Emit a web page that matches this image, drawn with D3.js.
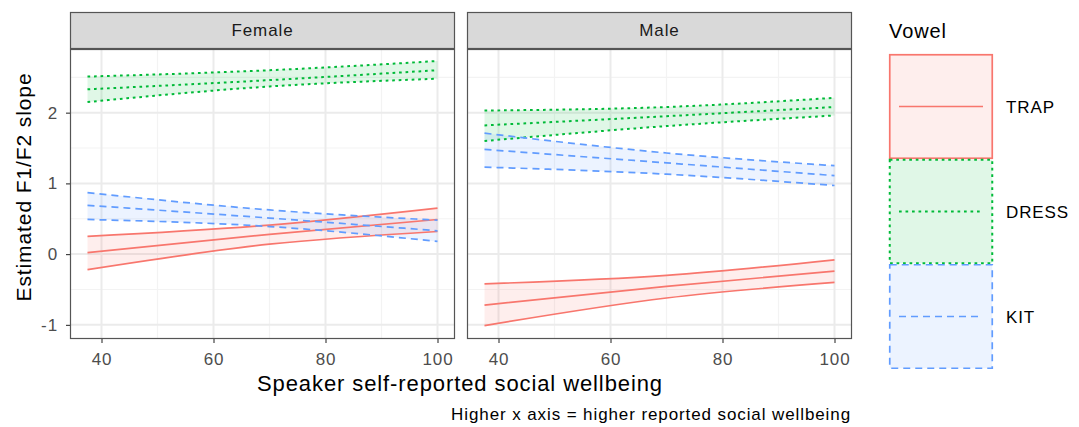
<!DOCTYPE html>
<html>
<head>
<meta charset="utf-8">
<script src="https://cdn.jsdelivr.net/npm/d3@7"></script>
<style>
  body { margin: 0; background: #fff; }
  text { font-family: "Liberation Sans", Arial, sans-serif; letter-spacing: 0.9px; }
</style>
</head>
<body>
<div id="chart"></div>
<script>
// x positions at which the fitted lines were read
const xValues = [37.5, 70, 100];

const sexes = ["Female", "Male"];
const vowels = ["TRAP", "DRESS", "KIT"];
const xTicks = [40, 60, 80, 100];
const yTicks = [-1, 0, 1, 2];

// Female
const femaleTrapFit = [0.02, 0.28, 0.49];
const femaleTrapLow = [-0.22, 0.14, 0.32];
const femaleTrapHigh = [0.25, 0.41, 0.65];
const femaleDressFit = [2.33, 2.46, 2.60];
const femaleDressLow = [2.15, 2.37, 2.48];
const femaleDressHigh = [2.51, 2.60, 2.73];
const femaleKitFit = [0.69, 0.51, 0.33];
const femaleKitLow = [0.49, 0.39, 0.18];
const femaleKitHigh = [0.87, 0.625, 0.48];

// Male
const maleTrapFit = [-0.72, -0.455, -0.24];
const maleTrapLow = [-1.01, -0.62, -0.40];
const maleTrapHigh = [-0.42, -0.30, -0.08];
const maleDressFit = [1.82, 1.95, 2.08];
const maleDressLow = [1.60, 1.81, 1.96];
const maleDressHigh = [2.03, 2.08, 2.21];
const maleKitFit = [1.48, 1.29, 1.11];
const maleKitLow = [1.23, 1.13, 0.97];
const maleKitHigh = [1.71, 1.43, 1.25];

const seriesBySex = {
    Female: {
        TRAP: [femaleTrapFit, femaleTrapLow, femaleTrapHigh],
        DRESS: [femaleDressFit, femaleDressLow, femaleDressHigh],
        KIT: [femaleKitFit, femaleKitLow, femaleKitHigh]
    },
    Male: {
        TRAP: [maleTrapFit, maleTrapLow, maleTrapHigh],
        DRESS: [maleDressFit, maleDressLow, maleDressHigh],
        KIT: [maleKitFit, maleKitLow, maleKitHigh]
    }
};

const color = d3.scaleOrdinal().domain(vowels).range(["#F8766D", "#00BA38", "#619CFF"]);
const dash = d3.scaleOrdinal().domain(vowels).range(["none", "2.7,3.8", "7,5"]);

// Layout
const panelTop = 49, panelBottom = 339, stripTop = 12;
const panelW = 385, panelGap = 12, firstLeft = 70;

const svg = d3.select("#chart").append("svg")
    .attr("width", 1079)
    .attr("height", 427);

const y = d3.scaleLinear().domain([-1.2, 2.9]).range([panelBottom, panelTop]);

sexes.forEach(function(sex, i) {
    const left = firstLeft + i * (panelW + panelGap);
    const x = d3.scaleLinear().domain([34.375, 103.125]).range([left, left + panelW]);

    const g = svg.append("g");

    // panel background and grid
    g.append("rect")
        .attr("x", left).attr("y", panelTop)
        .attr("width", panelW).attr("height", panelBottom - panelTop)
        .attr("fill", "#fff");

    [50, 70, 90].forEach(v => {
        g.append("line")
            .attr("x1", x(v)).attr("x2", x(v))
            .attr("y1", panelTop).attr("y2", panelBottom)
            .attr("stroke", "#F3F3F3").attr("stroke-width", 1.2);
    });
    [-0.5, 0.5, 1.5, 2.5].forEach(v => {
        g.append("line")
            .attr("x1", left).attr("x2", left + panelW)
            .attr("y1", y(v)).attr("y2", y(v))
            .attr("stroke", "#F3F3F3").attr("stroke-width", 1.2);
    });
    xTicks.forEach(v => {
        g.append("line")
            .attr("x1", x(v)).attr("x2", x(v))
            .attr("y1", panelTop).attr("y2", panelBottom)
            .attr("stroke", "#EBEBEB").attr("stroke-width", 2);
    });
    yTicks.forEach(v => {
        g.append("line")
            .attr("x1", left).attr("x2", left + panelW)
            .attr("y1", y(v)).attr("y2", y(v))
            .attr("stroke", "#EBEBEB").attr("stroke-width", 2);
    });

    const area = d3.area()
        .x((d, j) => x(xValues[j]))
        .y0(d => y(d[0]))
        .y1(d => y(d[1]))
        .curve(d3.curveMonotoneX);

    const line = d3.line()
        .x((d, j) => x(xValues[j]))
        .y(d => y(d))
        .curve(d3.curveMonotoneX);

    // ribbons first
    vowels.forEach(v => {
        const [fit, low, high] = seriesBySex[sex][v];
        g.append("path")
            .datum(low.map((lo, j) => [lo, high[j]]))
            .attr("d", area)
            .attr("fill", color(v))
            .attr("fill-opacity", 0.12);
    });

    // lines
    vowels.forEach(v => {
        seriesBySex[sex][v].forEach(values => {
            g.append("path")
                .datum(values)
                .attr("d", line)
                .attr("fill", "none")
                .attr("stroke", color(v))
                .attr("stroke-width", v === "DRESS" ? 2 : 1.7)
                .attr("stroke-dasharray", dash(v));
        });
    });

    // panel border
    g.append("rect")
        .attr("x", left + 0.5).attr("y", panelTop + 0.5)
        .attr("width", panelW - 1).attr("height", panelBottom - panelTop - 1)
        .attr("fill", "none")
        .attr("stroke", "#555").attr("stroke-width", 1.2);

    // strip
    g.append("rect")
        .attr("x", left + 0.5).attr("y", stripTop + 0.5)
        .attr("width", panelW - 1).attr("height", panelTop - stripTop - 1)
        .attr("fill", "#D9D9D9")
        .attr("stroke", "#555").attr("stroke-width", 1.2);
    g.append("text")
        .attr("x", left + panelW / 2)
        .attr("y", 36)
        .attr("text-anchor", "middle")
        .attr("font-size", 17)
        .attr("fill", "#1A1A1A")
        .text(sex);

    // x axis
    const xAxis = g.append("g")
        .attr("transform", "translate(0," + panelBottom + ")")
        .call(d3.axisBottom(x).tickValues(xTicks).tickSize(4).tickPadding(10));
    xAxis.select(".domain").remove();
    xAxis.selectAll(".tick line").attr("stroke", "#333").attr("stroke-width", 1.1);
    xAxis.selectAll(".tick text")
        .attr("font-size", 17)
        .attr("font-family", null)
        .attr("fill", "#4D4D4D");

    if (i === 0) {
        const yAxis = g.append("g")
            .attr("transform", "translate(" + left + ",0)")
            .call(d3.axisLeft(y).tickValues(yTicks).tickSize(4).tickPadding(8)
                .tickFormat(d => String(d)));
        yAxis.select(".domain").remove();
        yAxis.selectAll(".tick line").attr("stroke", "#333").attr("stroke-width", 1.1);
        yAxis.selectAll(".tick text")
            .attr("font-size", 17)
            .attr("font-family", null)
            .attr("fill", "#4D4D4D");
    }
});

// axis titles
svg.append("text")
    .attr("x", 460)
    .attr("y", 391)
    .attr("text-anchor", "middle")
    .attr("font-size", 22)
    .attr("fill", "#000")
    .text("Speaker self-reported social wellbeing");

svg.append("text")
    .attr("transform", "translate(31,187) rotate(-90)")
    .attr("text-anchor", "middle")
    .attr("font-size", 21)
    .attr("fill", "#000")
    .text("Estimated F1/F2 slope");

svg.append("text")
    .attr("x", 851)
    .attr("y", 420)
    .attr("text-anchor", "end")
    .attr("font-size", 17)
    .attr("letter-spacing", "1px")
    .attr("fill", "#000")
    .text("Higher x axis = higher reported social wellbeing");

// legend
const legend = svg.append("g");
legend.append("text")
    .attr("x", 889)
    .attr("y", 38)
    .attr("font-size", 20)
    .attr("fill", "#000")
    .text("Vowel");

const keyX = 889, keyTop = 54, keyW = 104, keyH = 105;
vowels.forEach((v, k) => {
    const top = keyTop + k * keyH;
    legend.append("rect")
        .attr("x", keyX + 0.75).attr("y", top + 0.75)
        .attr("width", keyW - 1.5).attr("height", keyH - 1.5)
        .attr("fill", color(v)).attr("fill-opacity", 0.12)
        .attr("stroke", color(v)).attr("stroke-width", v === "DRESS" ? 2 : 1.7)
        .attr("stroke-dasharray", dash(v));
    legend.append("line")
        .attr("x1", keyX + 10).attr("x2", keyX + 94)
        .attr("y1", top + keyH / 2).attr("y2", top + keyH / 2)
        .attr("stroke", color(v)).attr("stroke-width", v === "DRESS" ? 2 : 1.7)
        .attr("stroke-dasharray", dash(v));
    legend.append("text")
        .attr("x", 1006)
        .attr("y", top + keyH / 2 + 6)
        .attr("font-size", 17)
        .attr("fill", "#000")
        .text(v);
});
</script>
</body>
</html>
